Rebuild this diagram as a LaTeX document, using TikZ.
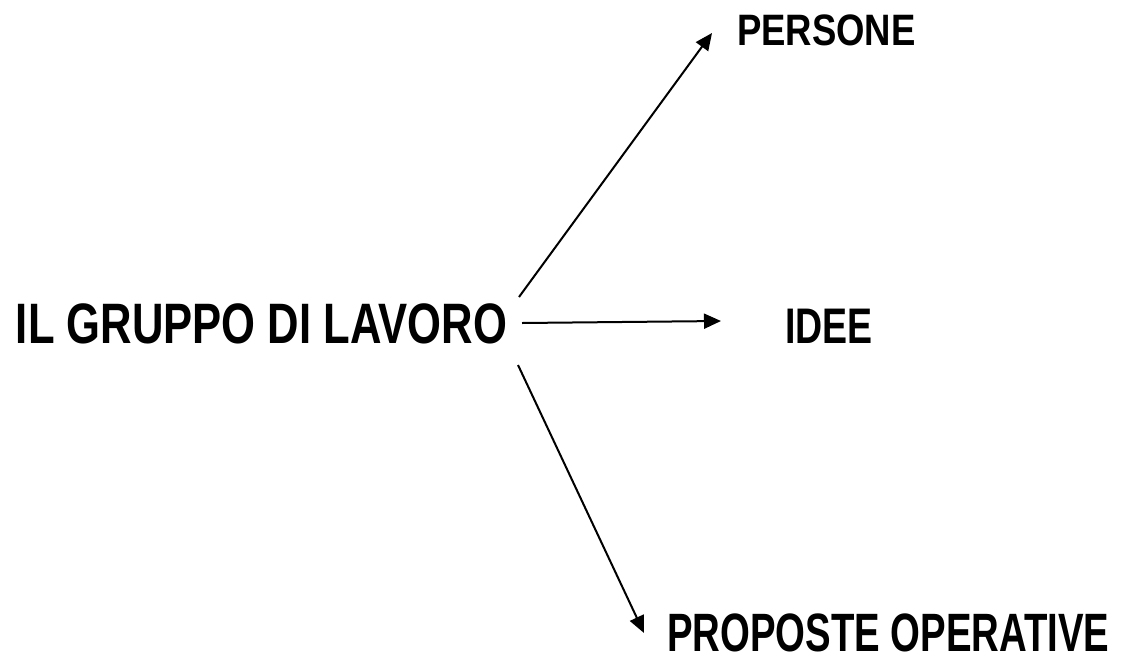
\documentclass[tikz,border=0pt]{standalone}
\usepackage{fontspec}
\setmainfont{Liberation Sans}
\usetikzlibrary{arrows.meta}
\newcommand{\lbltxt}[3]{\scalebox{#2}[1]{\fontsize{#1}{#1}\selectfont\bfseries #3}}
\begin{document}
\begin{tikzpicture}[x=1pt,y=-1pt,
  lbl/.style={anchor=base west,inner sep=0pt,outer sep=0pt},
  conn/.style={line width=2pt,-{Triangle[length=17pt,width=15pt]}}]
\useasboundingbox[fill=white] (0,0) rectangle (1124,654);
\node[lbl] (main) at (16,343) {\lbltxt{57pt}{0.765}{IL GRUPPO DI LAVORO}};
\node[lbl] (persone) at (737,45) {\lbltxt{44pt}{0.83}{PERSONE}};
\node[lbl] (idee) at (785,343) {\lbltxt{50pt}{0.75}{IDEE}};
\node[lbl] (prop) at (667,651) {\lbltxt{54pt}{0.71}{PROPOSTE OPERATIVE}};
\coordinate (s1) at (519,297);
\coordinate (e1) at (712,33);
\coordinate (s2) at (522,323);
\coordinate (e2) at (721,321);
\coordinate (s3) at (518,365);
\coordinate (e3) at (644,633);
\draw[conn] (s1) -- (e1);
\draw[conn] (s2) -- (e2);
\draw[conn] (s3) -- (e3);
\end{tikzpicture}
\end{document}
